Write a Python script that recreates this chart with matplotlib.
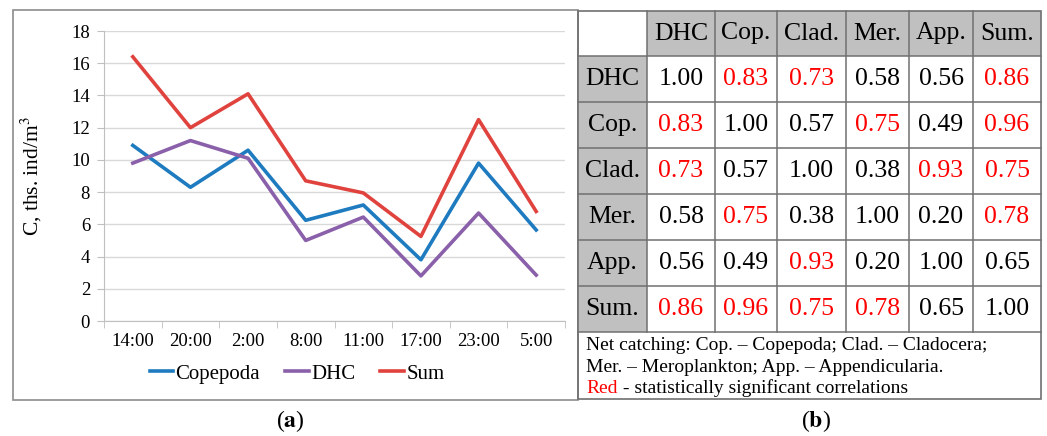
import matplotlib.pyplot as plt
from matplotlib.patches import Rectangle

plt.rcParams['font.family'] = ['Liberation Serif', 'DejaVu Serif']
plt.rcParams['mathtext.fontset'] = 'stix'

# zooplankton abundance over the day (ths. ind/m3)
times = ['14:00', '20:00', '2:00', '8:00', '11:00', '17:00', '23:00', '5:00']
copepoda = [10.9, 8.3, 10.6, 6.25, 7.2, 3.8, 9.8, 5.65]
dhc = [9.8, 11.2, 10.1, 5.0, 6.45, 2.8, 6.7, 2.85]
total = [16.4, 12.0, 14.1, 8.7, 7.95, 5.25, 12.5, 6.8]

# correlation matrix
groups = ['DHC', 'Cop.', 'Clad.', 'Mer.', 'App.', 'Sum.']
corr = [
    [1.00, 0.83, 0.73, 0.58, 0.56, 0.86],
    [0.83, 1.00, 0.57, 0.75, 0.49, 0.96],
    [0.73, 0.57, 1.00, 0.38, 0.93, 0.75],
    [0.58, 0.75, 0.38, 1.00, 0.20, 0.78],
    [0.56, 0.49, 0.93, 0.20, 1.00, 0.65],
    [0.86, 0.96, 0.75, 0.78, 0.65, 1.00],
]
signif = [
    [0, 1, 1, 0, 0, 1],
    [1, 0, 0, 1, 0, 1],
    [1, 0, 0, 0, 1, 1],
    [0, 1, 0, 0, 0, 1],
    [0, 0, 1, 0, 0, 0],
    [1, 1, 1, 1, 0, 0],
]
notes = ['Net catching: Cop. \u2013 Copepoda; Clad. \u2013 Cladocera;',
         'Mer. \u2013 Meroplankton; App. \u2013 Appendicularia.']

W, H = 1047, 436
fig = plt.figure(figsize=(W / 100, H / 100), dpi=100)

# pixel-space overlay for frames, table and panel labels
bg = fig.add_axes([0, 0, 1, 1])
bg.set_xlim(0, W)
bg.set_ylim(H, 0)
bg.axis('off')

bg.add_patch(Rectangle((12.5, 10.5), 565, 389.5, fill=False, ec='#8c8c8c', lw=1.2))

# ---- (a) line chart
ax = fig.add_axes([104 / W, 1 - 321 / H, 461 / W, 290 / H])
x = list(range(len(times)))
ax.plot(x, copepoda, color='#1f7bbf', lw=2.6, label='Copepoda')
ax.plot(x, dhc, color='#8a60aa', lw=2.6, label='DHC')
ax.plot(x, total, color='#e0433e', lw=2.6, label='Sum')
ax.set_xlim(-0.5, len(times) - 0.5)
ax.set_ylim(0, 18)
ax.set_yticks(range(0, 19, 2))
ax.set_xticks(x)
ax.set_xticklabels(times)
ax.set_xticks([i - 0.5 for i in range(len(times) + 1)], minor=True)
ax.tick_params(axis='x', which='major', length=0, labelsize=13.5, pad=9)
ax.tick_params(axis='x', which='minor', length=5, color='#bfbfbf', direction='out')
ax.tick_params(axis='y', length=5, color='#bfbfbf', labelsize=13.5, pad=5)
ax.grid(axis='y', color='#d9d9d9', lw=1)
ax.set_axisbelow(True)
for s in ['top', 'right']:
    ax.spines[s].set_visible(False)
ax.spines['left'].set_color('#bfbfbf')
ax.spines['bottom'].set_color('#bfbfbf')
ax.set_ylabel('C, ths. ind/m$^3$', fontsize=15.5, labelpad=20)
fig.legend(loc='center', bbox_to_anchor=(297 / W, 1 - 374 / H), ncol=3, frameon=False,
           fontsize=15, handlelength=1.15, handletextpad=0.1, columnspacing=1.2)

# ---- (b) correlation table
col_edges = [578, 647, 715, 777, 846, 909, 973, 1041]
row_edges = [11, 56, 102, 148, 194, 240, 286, 332]
gray = '#c0c0c0'
n = len(groups)
for j in range(n):
    bg.add_patch(Rectangle((col_edges[j + 1], row_edges[0]), col_edges[j + 2] - col_edges[j + 1],
                           row_edges[1] - row_edges[0], fc=gray, ec='none'))
    bg.add_patch(Rectangle((col_edges[0], row_edges[j + 1]), col_edges[1] - col_edges[0],
                           row_edges[j + 2] - row_edges[j + 1], fc=gray, ec='none'))
for j, g in enumerate(groups):
    cx = (col_edges[j + 1] + col_edges[j + 2]) / 2
    cy = (row_edges[0] + row_edges[1]) / 2
    bg.text(cx, cy, g, ha='center', va='center', fontsize=18.5)
    cx = (col_edges[0] + col_edges[1]) / 2
    cy = (row_edges[j + 1] + row_edges[j + 2]) / 2
    bg.text(cx, cy, g, ha='center', va='center', fontsize=18.5)
for i in range(n):
    for j in range(n):
        cx = (col_edges[j + 1] + col_edges[j + 2]) / 2
        cy = (row_edges[i + 1] + row_edges[i + 2]) / 2
        bg.text(cx, cy, f'{corr[i][j]:.2f}', ha='center', va='center', fontsize=18.5,
                color='#ff0000' if signif[i][j] else 'black')

tc = '#707070'
for xe in col_edges[1:-1]:
    bg.plot([xe, xe], [row_edges[0], row_edges[-1]], color=tc, lw=1.1)
for ye in row_edges[1:]:
    bg.plot([col_edges[0], col_edges[-1]], [ye, ye], color=tc, lw=1.1)
bg.add_patch(Rectangle((col_edges[0], row_edges[0]), col_edges[-1] - col_edges[0],
                       399 - row_edges[0], fill=False, ec=tc, lw=1.2))

bg.text(586, 345, notes[0], ha='left', va='center', fontsize=14)
bg.text(586, 367, notes[1], ha='left', va='center', fontsize=14)
t = bg.text(586, 388, 'Red', ha='left', va='center', fontsize=14, color='#ff0000')
bg.annotate(' - statistically significant correlations', xycoords=t, xy=(1, 0.5),
            ha='left', va='center', fontsize=14)

# panel labels
bg.text(290, 421, r'($\mathbf{a}$)', ha='center', va='center', fontsize=17)
bg.text(816, 421, r'($\mathbf{b}$)', ha='center', va='center', fontsize=17)

fig.savefig('out.png', dpi=100)
